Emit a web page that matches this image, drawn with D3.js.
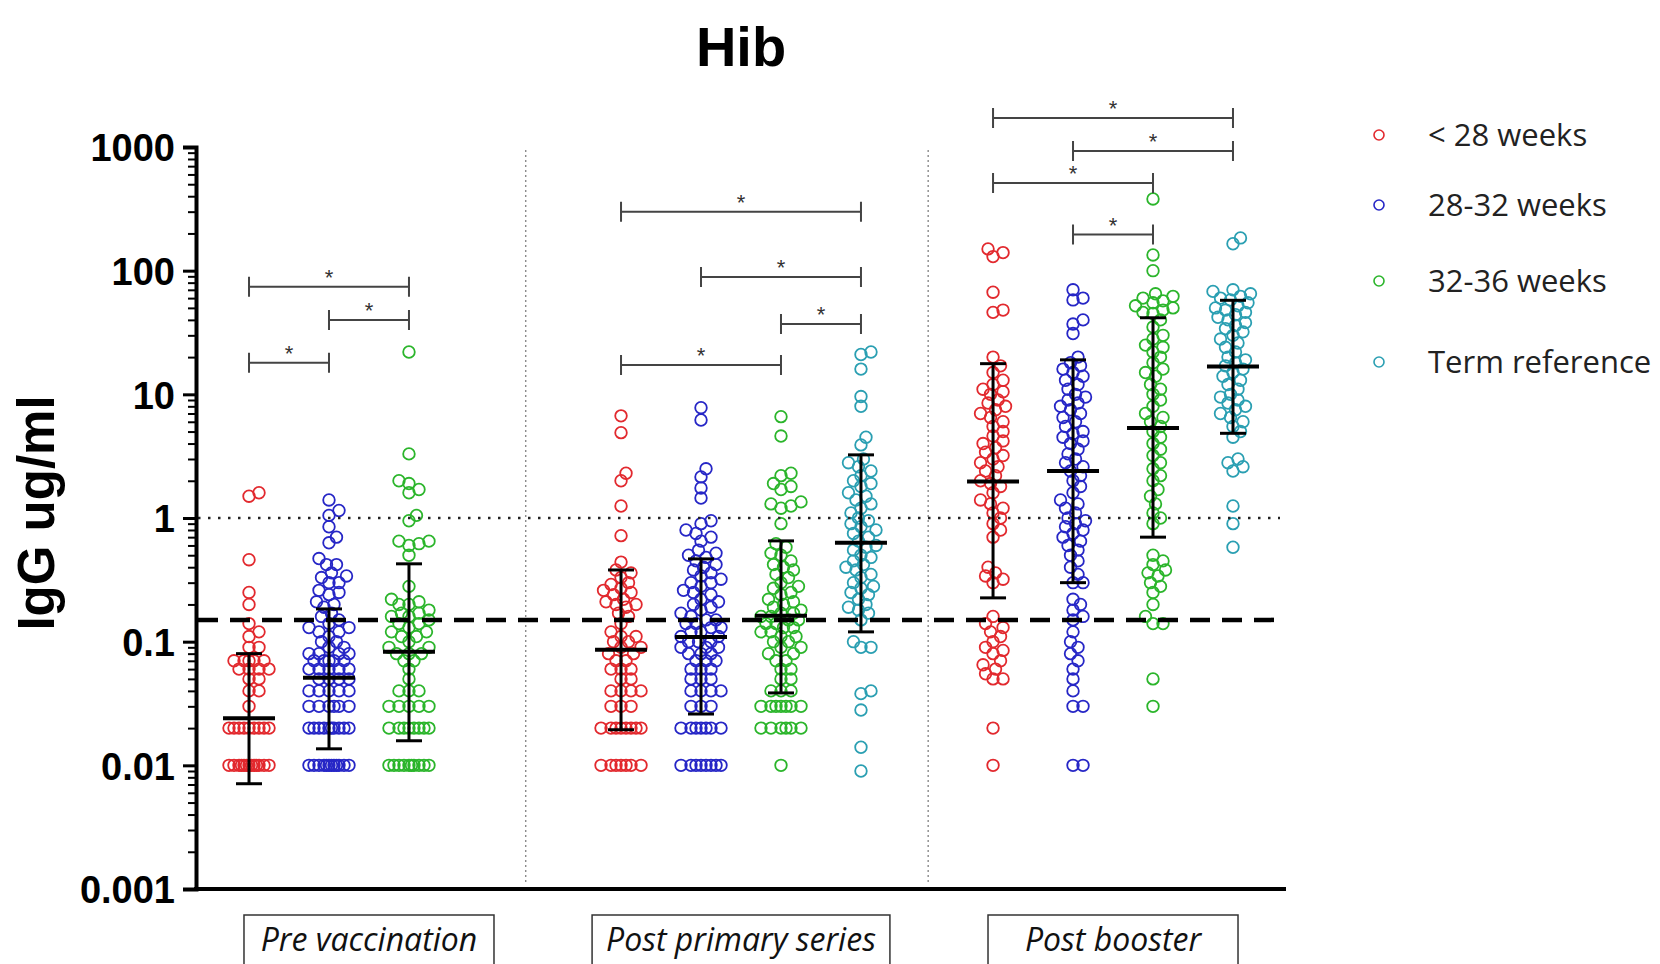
<!DOCTYPE html>
<html>
<head>
<meta charset="utf-8">
<script src="https://cdn.jsdelivr.net/npm/d3@7"></script>
<style>
  body { margin: 0; background: #fff; }
</style>
</head>
<body>
<div id="chart"></div>
<script>
// categories
const groups = ["Pre vaccination", "Post primary series", "Post booster"];
const series = ["< 28 weeks", "28-32 weeks", "32-36 weeks", "Term reference"];
const colors = ["#e2292e", "#2626c6", "#2bb52b", "#2a9fb2"];
const tickValues = [0.001, 0.01, 0.1, 1, 10, 100, 1000];

// individual IgG results (ug/ml)
const preLt28 = [1.6, 1.5, 0.46, 0.25, 0.2, 0.14, 0.12, 0.11, 0.09, 0.09, 0.07, 0.07, 0.07, 0.07, 0.07,
  0.06, 0.06, 0.06, 0.06, 0.05, 0.05, 0.04, 0.04, 0.03,
  0.02, 0.02, 0.02, 0.02, 0.02, 0.02, 0.02, 0.02, 0.02,
  0.01, 0.01, 0.01, 0.01, 0.01, 0.01, 0.01, 0.01, 0.01, 0.01, 0.01, 0.01, 0.01];
const pre28_32 = [1.4, 1.15, 1.05, 0.85, 0.7, 0.63, 0.47, 0.42, 0.42, 0.36, 0.34, 0.33, 0.3, 0.3, 0.26,
  0.25, 0.24, 0.21, 0.2, 0.19, 0.17, 0.16, 0.15, 0.14, 0.13, 0.13, 0.12, 0.12, 0.11, 0.1, 0.1, 0.09,
  0.09, 0.08, 0.08, 0.08, 0.08, 0.07, 0.07, 0.07, 0.07, 0.07, 0.06, 0.06, 0.06, 0.06, 0.06,
  0.05, 0.05, 0.05, 0.05, 0.04, 0.04, 0.04, 0.04, 0.04, 0.03, 0.03, 0.03, 0.03, 0.03, 0.03,
  0.02, 0.02, 0.02, 0.02, 0.02, 0.02, 0.02, 0.02, 0.02, 0.02,
  0.01, 0.01, 0.01, 0.01, 0.01, 0.01, 0.01, 0.01, 0.01, 0.01, 0.01, 0.01];
const pre32_36 = [22, 3.3, 2.0, 1.9, 1.7, 1.6, 1.05, 0.95, 0.65, 0.65, 0.62, 0.6, 0.5, 0.28, 0.22, 0.21,
  0.2, 0.2, 0.18, 0.17, 0.17, 0.16, 0.16, 0.15, 0.14, 0.14, 0.13, 0.12, 0.12, 0.11, 0.11, 0.1,
  0.09, 0.09, 0.08, 0.08, 0.08, 0.07, 0.07, 0.06, 0.05, 0.04, 0.04, 0.04,
  0.03, 0.03, 0.03, 0.03, 0.03, 0.02, 0.02, 0.02, 0.02, 0.02, 0.02, 0.02, 0.02,
  0.01, 0.01, 0.01, 0.01, 0.01, 0.01, 0.01, 0.01, 0.01, 0.01];

const primLt28 = [6.7, 4.9, 2.3, 2.0, 1.25, 0.72, 0.44, 0.38, 0.36, 0.33, 0.3, 0.29, 0.27, 0.26, 0.25,
  0.24, 0.22, 0.21, 0.2, 0.2, 0.19, 0.17, 0.16, 0.14, 0.12, 0.11, 0.11, 0.1, 0.1, 0.09, 0.09, 0.08,
  0.08, 0.07, 0.07, 0.06, 0.06, 0.06, 0.05, 0.05, 0.04, 0.04, 0.04, 0.04, 0.03, 0.03, 0.03,
  0.02, 0.02, 0.02, 0.02, 0.02, 0.02, 0.02, 0.02, 0.01, 0.01, 0.01, 0.01, 0.01, 0.01, 0.01];
const prim28_32 = [7.8, 6.2, 2.5, 2.15, 1.75, 1.45, 0.95, 0.9, 0.8, 0.75, 0.7, 0.65, 0.55, 0.52, 0.5,
  0.48, 0.45, 0.42, 0.4, 0.38, 0.36, 0.34, 0.32, 0.3, 0.3, 0.28, 0.26, 0.25, 0.24, 0.22, 0.21, 0.2,
  0.19, 0.18, 0.17, 0.16, 0.15, 0.15, 0.14, 0.14, 0.13, 0.13, 0.12, 0.12, 0.11, 0.11, 0.1, 0.1, 0.1,
  0.09, 0.09, 0.09, 0.08, 0.08, 0.08, 0.07, 0.07, 0.07, 0.06, 0.06, 0.06, 0.05, 0.05, 0.05,
  0.04, 0.04, 0.04, 0.04, 0.03, 0.03, 0.03, 0.02, 0.02, 0.02, 0.02, 0.02, 0.02, 0.02,
  0.01, 0.01, 0.01, 0.01, 0.01, 0.01, 0.01, 0.01];
const prim32_36 = [6.6, 4.6, 2.3, 2.2, 1.9, 1.8, 1.7, 1.35, 1.3, 1.25, 1.2, 0.9, 0.62, 0.58, 0.52, 0.5,
  0.45, 0.42, 0.4, 0.38, 0.35, 0.33, 0.3, 0.28, 0.27, 0.25, 0.24, 0.22, 0.21, 0.2, 0.19, 0.18, 0.17,
  0.17, 0.16, 0.16, 0.15, 0.15, 0.14, 0.14, 0.13, 0.13, 0.12, 0.12, 0.11, 0.11, 0.1, 0.1, 0.09, 0.09,
  0.08, 0.08, 0.07, 0.07, 0.06, 0.06, 0.05, 0.05, 0.04, 0.04, 0.04,
  0.03, 0.03, 0.03, 0.03, 0.03, 0.03, 0.03, 0.02, 0.02, 0.02, 0.02, 0.02, 0.02, 0.01];
const primTerm = [22, 21, 16, 9.6, 8, 4.5, 3.9, 3.0, 2.8, 2.6, 2.4, 2.2, 2.0, 1.9, 1.8, 1.6, 1.5, 1.4,
  1.3, 1.2, 1.1, 1.0, 0.95, 0.9, 0.85, 0.8, 0.75, 0.7, 0.65, 0.6, 0.58, 0.55, 0.5, 0.48, 0.45, 0.42,
  0.4, 0.38, 0.35, 0.33, 0.3, 0.28, 0.27, 0.25, 0.24, 0.22, 0.2, 0.19, 0.18, 0.17, 0.15,
  0.1, 0.09, 0.09, 0.04, 0.038, 0.028, 0.014, 0.009];

const boostLt28 = [150, 140, 130, 67, 48, 46, 20, 17, 15, 13, 12, 11, 10.5, 10, 9, 8.5, 8, 7.5, 7, 6.5,
  6, 5.5, 5, 4.6, 4.2, 4, 3.7, 3.4, 3.2, 3, 2.8, 2.6, 2.4, 2.2, 2.0, 1.9, 1.8, 1.6, 1.4, 1.3, 1.2,
  1.1, 1.0, 0.9, 0.8, 0.7, 0.4, 0.36, 0.34, 0.32, 0.3, 0.16, 0.14, 0.13, 0.12, 0.11, 0.1, 0.09,
  0.085, 0.08, 0.07, 0.065, 0.06, 0.055, 0.05, 0.05, 0.02, 0.01];
const boost28_32 = [70, 60, 58, 40, 37, 31, 20, 18, 17, 16, 15, 14, 13, 12, 11, 10, 9.5, 9, 8.5, 8, 7.5,
  7, 6.5, 6, 5.5, 5, 4.8, 4.5, 4.2, 4, 3.6, 3.3, 3, 2.8, 2.6, 2.4, 2.2, 2, 1.8, 1.6, 1.4, 1.3, 1.2,
  1.1, 1.0, 0.95, 0.9, 0.85, 0.8, 0.75, 0.7, 0.65, 0.6, 0.55, 0.5, 0.45, 0.4, 0.35, 0.3, 0.3,
  0.22, 0.2, 0.18, 0.16, 0.15, 0.12, 0.1, 0.09, 0.08, 0.07, 0.06, 0.05, 0.04, 0.03, 0.03, 0.01, 0.01];
const boost32_36 = [380, 134, 100, 65, 62, 60, 57, 55, 52, 50, 48, 46, 45, 40, 35, 30, 28, 25, 24, 22,
  20, 18, 16, 15, 14, 12, 11, 10, 9, 8, 7, 6.5, 6, 5.5, 5, 4.5, 4, 3.6, 3.2, 2.8, 2.5, 2.2, 2, 1.7,
  1.5, 1.3, 1.1, 1.0, 0.9, 0.5, 0.45, 0.42, 0.38, 0.36, 0.34, 0.3, 0.28, 0.25, 0.2, 0.16, 0.14,
  0.14, 0.05, 0.03];
const boostTerm = [184, 165, 70, 68, 65, 62, 60, 58, 55, 52, 50, 48, 46, 44, 42, 40, 38, 36, 34, 32, 30,
  28, 26, 24, 22, 20, 19, 18, 17, 16, 15, 14, 13, 12, 11, 10, 9.5, 9, 8.5, 8, 7.5, 7, 6.5, 6, 5.5,
  5, 4.5, 3, 2.8, 2.6, 2.4, 1.25, 0.9, 0.58];

const points = [
  [preLt28, pre28_32, pre32_36, null],
  [primLt28, prim28_32, prim32_36, primTerm],
  [boostLt28, boost28_32, boost32_36, boostTerm]
];

// geometric mean and range, per group and series
const centre = [[0.024, 0.051, 0.083, null], [0.086, 0.109, 0.162, 0.63], [1.97, 2.4, 5.35, 16.8]];
const lower = [[0.0071, 0.0136, 0.0158, null], [0.0194, 0.026, 0.0385, 0.12], [0.226, 0.3, 0.7, 4.84]];
const upper = [[0.08, 0.184, 0.426, null], [0.38, 0.467, 0.653, 3.24], [17.7, 19, 41.6, 57.6]];

// significance brackets: group, from series, to series, height (ug/ml)
const brackets = [
  [0, 0, 2, 74], [0, 1, 2, 40], [0, 0, 1, 18],
  [1, 0, 3, 300], [1, 1, 3, 89], [1, 2, 3, 37], [1, 0, 2, 17.3],
  [2, 0, 3, 1715], [2, 1, 3, 929], [2, 0, 2, 512], [2, 1, 2, 196]
];

// reference levels
const protective = 1;
const shortTerm = 0.15;

const width = 1660, height = 964;
const svg = d3.select("#chart").append("svg")
  .attr("width", width)
  .attr("height", height)
  .style("font-family", "'Liberation Sans', Arial, sans-serif");

// scales
const y = d3.scaleLog().domain([0.001, 1000]).range([889, 147]);
const xGroup = d3.scaleBand().domain(groups).range([196, 1286]).paddingInner(0.14).paddingOuter(0.035);
const xSlot = d3.scaleBand().domain(series).range([0, xGroup.bandwidth()]);
const cx = (g, s) => xGroup(groups[g]) + xSlot(series[s]) + xSlot.bandwidth() / 2;
// dotted separators, in slot steps from the start of a group
const dividers = [[0, 3.96], [1, 4.34]];

// title
svg.append("text")
  .attr("x", (196 + 1286) / 2)
  .attr("y", 66)
  .attr("text-anchor", "middle")
  .style("font-size", "56px")
  .style("font-weight", "bold")
  .text("Hib");

// separators
svg.append("g").selectAll("line")
  .data(dividers)
  .join("line")
  .attr("x1", d => xGroup(groups[d[0]]) + xSlot.step() * d[1])
  .attr("x2", d => xGroup(groups[d[0]]) + xSlot.step() * d[1])
  .attr("y1", y(1000) + 3)
  .attr("y2", y(0.001) - 4)
  .attr("stroke", "#777")
  .attr("stroke-width", 1.2)
  .attr("stroke-dasharray", "2,3");

// beeswarm placement like the column scatter
function swarm(vals, x0) {
  const placed = [];
  const offsets = [0];
  for (let k = 2.5; k <= 20; k += 2.5) offsets.push(k, -k);
  vals.slice().sort((a, b) => a - b).forEach(v => {
    const py = y(v);
    let best = x0, bestD = -1;
    for (const off of offsets) {
      let dmin = Infinity;
      for (const p of placed) {
        if (Math.abs(p.y - py) > 12) continue;
        const dd = Math.hypot(p.x - (x0 + off), p.y - py);
        if (dd < dmin) dmin = dd;
      }
      if (dmin >= 9) { best = x0 + off; bestD = dmin; break; }
      if (dmin > bestD) { bestD = dmin; best = x0 + off; }
    }
    placed.push({ x: best, y: py });
  });
  return placed;
}

const pts = svg.append("g");
points.forEach((grp, g) => {
  grp.forEach((vals, s) => {
    if (!vals) return;
    pts.append("g")
      .selectAll("circle")
      .data(swarm(vals, cx(g, s)))
      .join("circle")
      .attr("cx", d => d.x)
      .attr("cy", d => d.y)
      .attr("r", 5.8)
      .attr("fill", "none")
      .attr("stroke", colors[s])
      .attr("stroke-width", 1.8);
  });
});

// reference lines
svg.append("line")
  .attr("x1", 198).attr("x2", 1280)
  .attr("y1", y(protective)).attr("y2", y(protective))
  .attr("stroke", "#222").attr("stroke-width", 2.4)
  .attr("stroke-dasharray", "2.5,7.5");
svg.append("line")
  .attr("x1", 198).attr("x2", 1280)
  .attr("y1", y(shortTerm)).attr("y2", y(shortTerm))
  .attr("stroke", "#000").attr("stroke-width", 4.5)
  .attr("stroke-dasharray", "20,12");

// mean and range bars
const bars = [];
centre.forEach((row, g) => row.forEach((m, s) => {
  if (m != null) bars.push({ x: cx(g, s), m, lo: lower[g][s], hi: upper[g][s] });
}));
const eb = svg.append("g").attr("stroke", "#000");
eb.selectAll(".stem").data(bars).join("line")
  .attr("x1", d => d.x).attr("x2", d => d.x)
  .attr("y1", d => y(d.lo)).attr("y2", d => y(d.hi))
  .attr("stroke-width", 3);
eb.selectAll(".capHi").data(bars).join("line")
  .attr("x1", d => d.x - 13).attr("x2", d => d.x + 13)
  .attr("y1", d => y(d.hi)).attr("y2", d => y(d.hi))
  .attr("stroke-width", 3);
eb.selectAll(".capLo").data(bars).join("line")
  .attr("x1", d => d.x - 13).attr("x2", d => d.x + 13)
  .attr("y1", d => y(d.lo)).attr("y2", d => y(d.lo))
  .attr("stroke-width", 3);
eb.selectAll(".mean").data(bars).join("line")
  .attr("x1", d => d.x - 26).attr("x2", d => d.x + 26)
  .attr("y1", d => y(d.m)).attr("y2", d => y(d.m))
  .attr("stroke-width", 4);

// significance brackets
const br = svg.append("g");
brackets.forEach(([g, a, b, v]) => {
  const x1 = cx(g, a), x2 = cx(g, b), by = y(v);
  br.append("path")
    .attr("d", `M${x1},${by - 10}V${by + 10}M${x1},${by}H${x2}M${x2},${by - 10}V${by + 10}`)
    .attr("fill", "none")
    .attr("stroke", "#444")
    .attr("stroke-width", 2);
  br.append("text")
    .attr("x", (x1 + x2) / 2)
    .attr("y", by - 2)
    .attr("text-anchor", "middle")
    .style("font-size", "22px")
    .attr("fill", "#333")
    .text("*");
});

// axes
const yAxis = svg.append("g")
  .attr("transform", "translate(196,0)")
  .call(d3.axisLeft(y).tickValues(tickValues).tickFormat(d3.format("~g")).tickSize(13).tickPadding(8));
yAxis.select(".domain").attr("stroke-width", 4);
yAxis.selectAll(".tick line").attr("stroke-width", 3);
yAxis.selectAll("text")
  .style("font-size", "38px")
  .style("font-weight", "bold")
  .attr("dy", "0.36em");

const minor = [];
tickValues.slice(0, -1).forEach(t => { for (let k = 2; k <= 9; k++) minor.push(t * k); });
svg.append("g")
  .attr("transform", "translate(196,0)")
  .call(d3.axisLeft(y).tickValues(minor).tickFormat("").tickSize(8))
  .call(g => g.select(".domain").remove())
  .selectAll(".tick line").attr("stroke-width", 2);

svg.append("line")
  .attr("x1", 194).attr("x2", 1286)
  .attr("y1", 889).attr("y2", 889)
  .attr("stroke", "#000").attr("stroke-width", 4);

svg.append("text")
  .attr("transform", "translate(54,513) rotate(-90)")
  .attr("text-anchor", "middle")
  .style("font-size", "51px")
  .style("font-weight", "bold")
  .text("IgG ug/ml");

// group label boxes
groups.forEach(gname => {
  const xc = xGroup(gname) + xGroup.bandwidth() / 2;
  const t = svg.append("text")
    .attr("x", xc)
    .attr("y", 951)
    .attr("text-anchor", "middle")
    .style("font-family", "'Open Sans', sans-serif")
    .style("font-style", "italic")
    .style("font-size", "32px")
    .attr("fill", "#111")
    .text(gname);
  const bw = Math.max(t.node().getComputedTextLength() + 28, 250);
  svg.insert("rect", "text")
    .attr("x", xc - bw / 2)
    .attr("y", 915)
    .attr("width", bw)
    .attr("height", 52)
    .attr("fill", "none")
    .attr("stroke", "#333")
    .attr("stroke-width", 1.5);
});

// legend
const legend = svg.append("g").attr("transform", "translate(1379,135)");
series.forEach((s, i) => {
  const row = legend.append("g").attr("transform", `translate(0,${[0, 70, 146, 227][i]})`);
  row.append("circle")
    .attr("r", 5)
    .attr("fill", "none")
    .attr("stroke", colors[i])
    .attr("stroke-width", 1.6);
  row.append("text")
    .attr("x", 49)
    .attr("y", 11)
    .style("font-family", "'Open Sans', sans-serif")
    .style("font-size", "31px")
    .attr("fill", "#222")
    .text(s);
});
</script>
</body>
</html>
